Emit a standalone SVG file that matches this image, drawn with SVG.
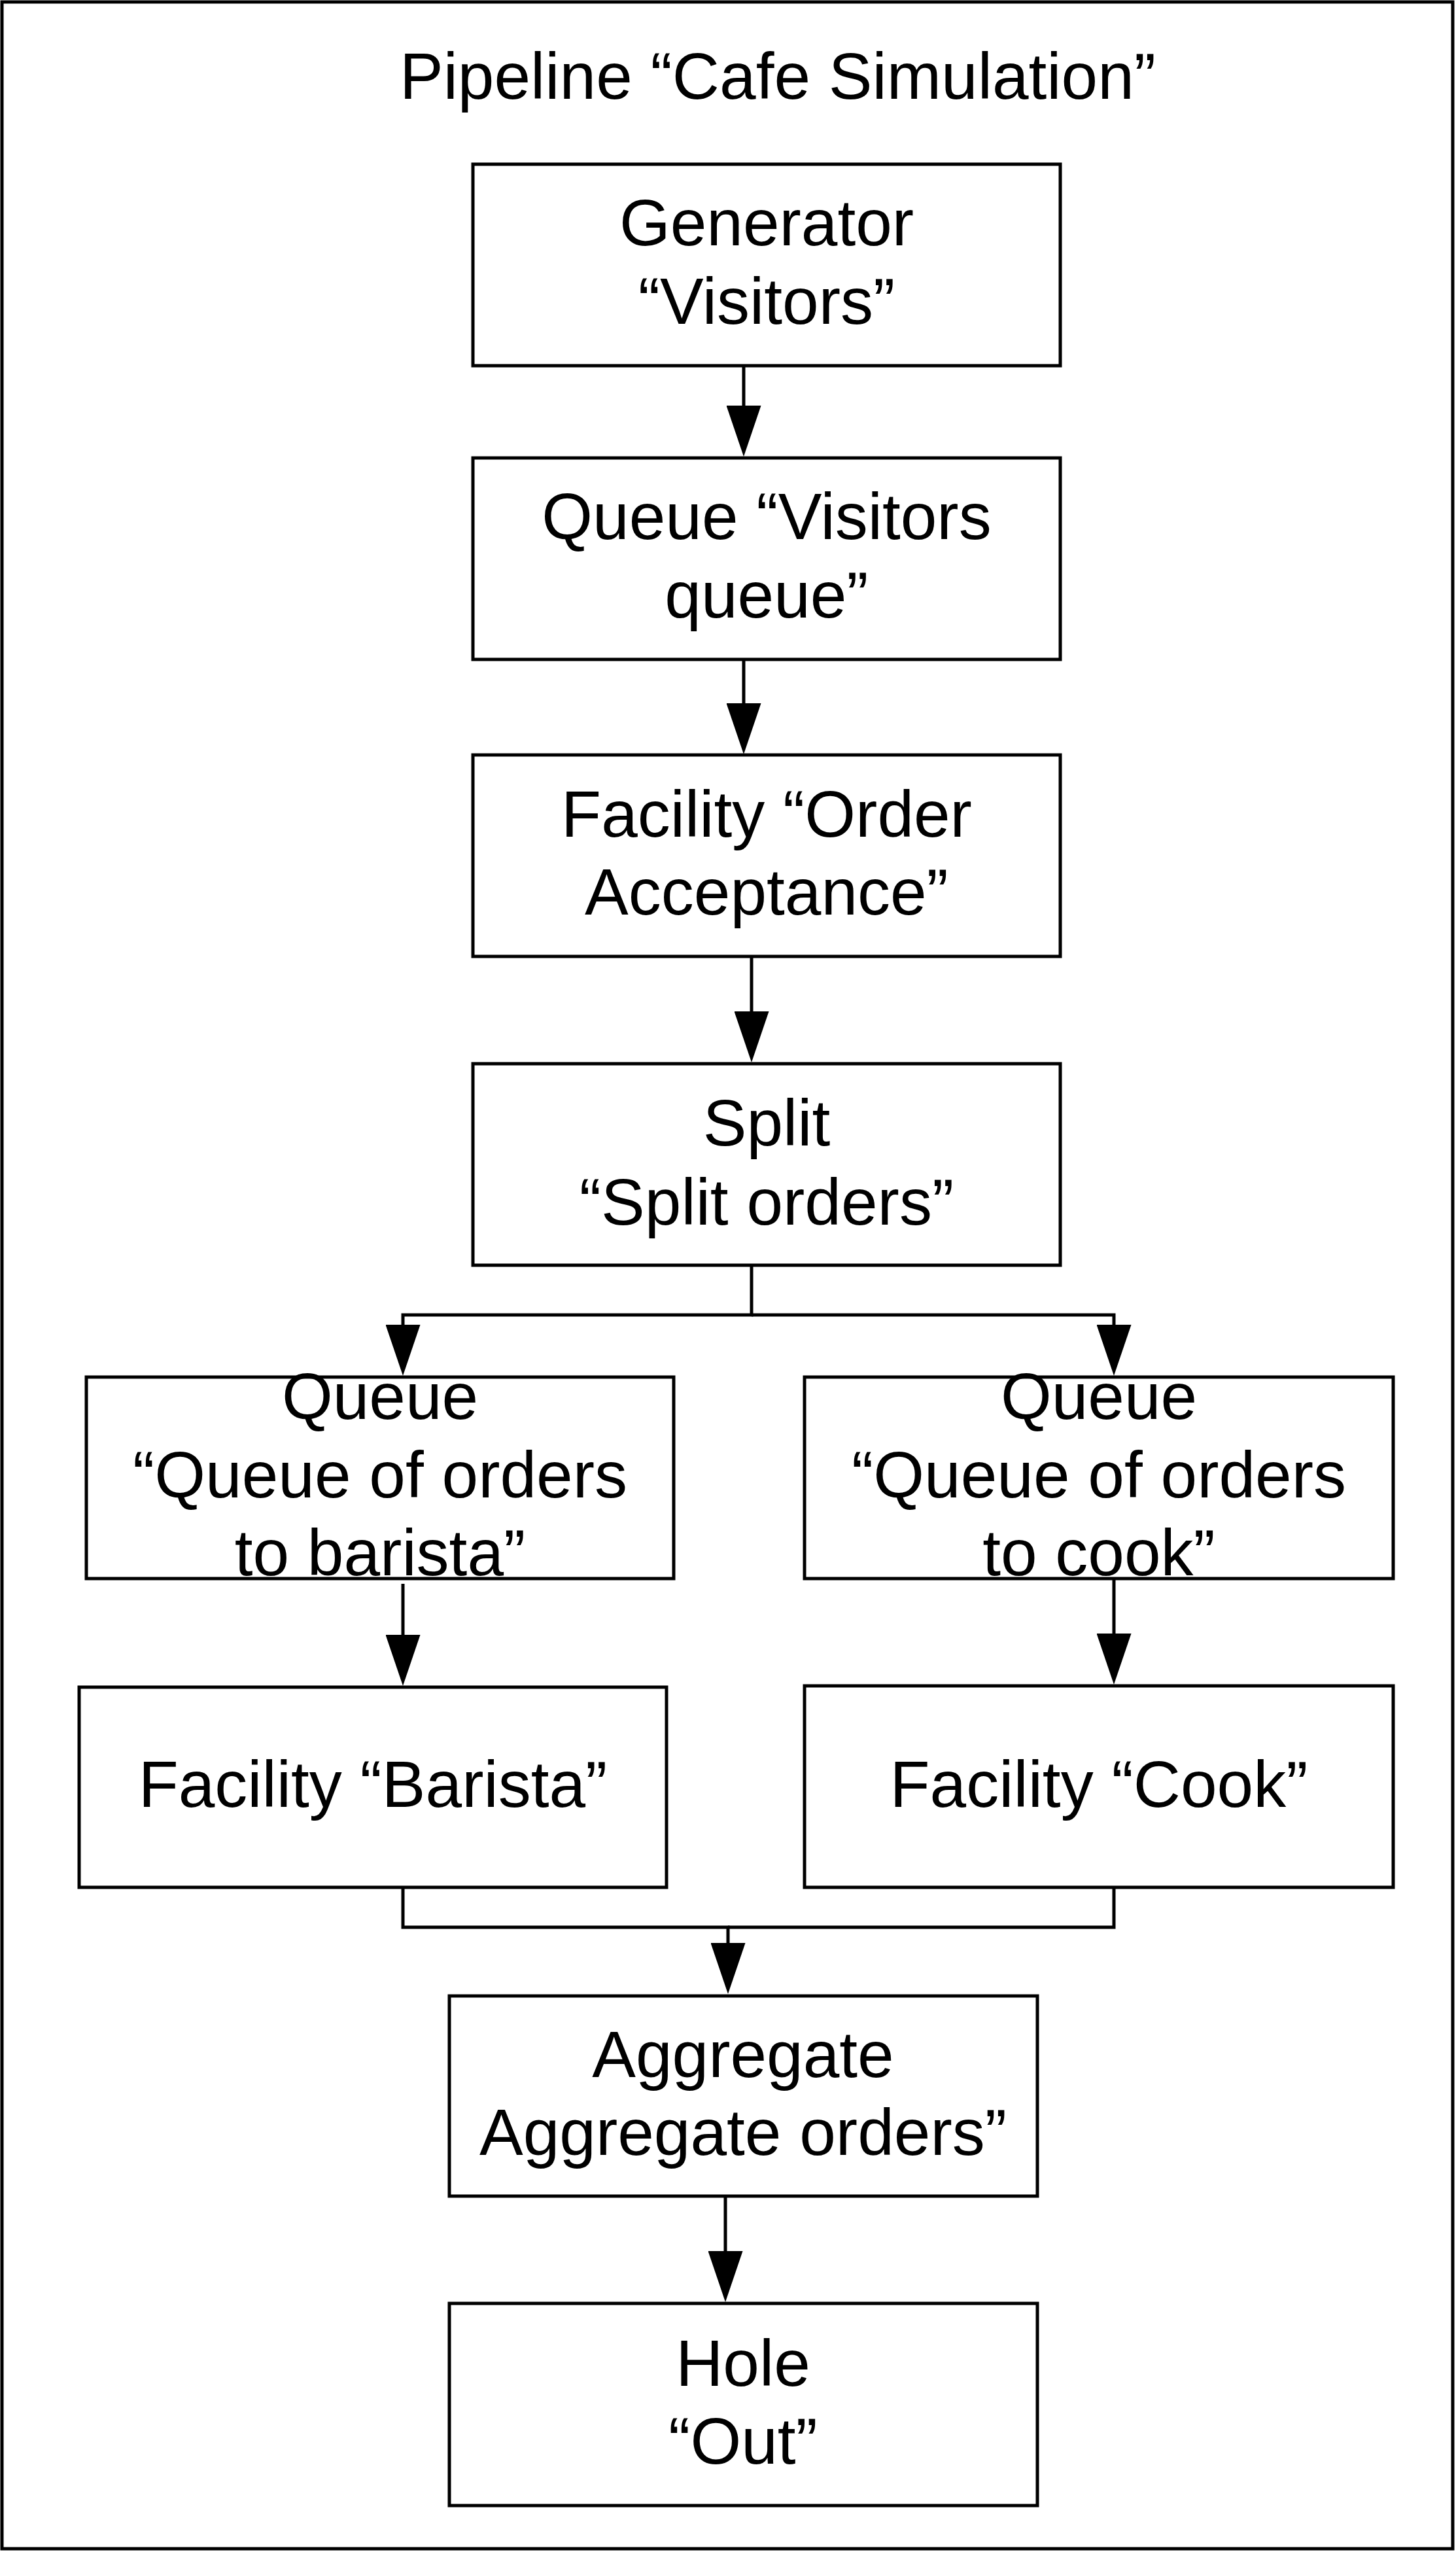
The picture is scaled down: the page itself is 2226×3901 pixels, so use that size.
<svg xmlns="http://www.w3.org/2000/svg" width="2226" height="3901" viewBox="0 0 2226 3901">
<style>
.bg{fill:#ffffff}
.frame{fill:none;stroke:#000;stroke-width:5}
.box{fill:#ffffff;stroke:#000;stroke-width:5}
.t{font-family:"Liberation Sans",Arial,sans-serif;font-size:100px;fill:#000;text-anchor:middle}
.c{fill:none;stroke:#000;stroke-width:5;stroke-linejoin:miter}
</style>
<defs>
<marker id="ah" markerUnits="userSpaceOnUse" viewBox="0 0 78 53" markerWidth="78" markerHeight="53" refX="68" refY="26.5" orient="auto">
<path d="M0,0 L78,26.5 L0,53 Z" fill="#000"/>
</marker>
</defs>
<rect class="bg" x="0" y="0" width="2226" height="3901"/>
<g id="pipeline">
<rect class="frame" x="3" y="3" width="2218" height="3893"/>
<text class="t" x="1189" y="151">Pipeline “Cafe Simulation”</text>
</g>
<g id="connectors">
<path class="c" d="M1137,559 V688" marker-end="url(#ah)"/>
<path class="c" d="M1137,1008 V1143" marker-end="url(#ah)"/>
<path class="c" d="M1149,1462 V1614" marker-end="url(#ah)"/>
<path class="c" d="M1149,1934 V2010 H616 V2093" marker-end="url(#ah)"/>
<path class="c" d="M1149,2010 H1703 V2093" marker-end="url(#ah)"/>
<path class="c" d="M616,2421 V2567" marker-end="url(#ah)"/>
<path class="c" d="M1703,2413 V2565" marker-end="url(#ah)"/>
<path class="c" d="M616,2885 V2946 H1113 V3038" marker-end="url(#ah)"/>
<path class="c" d="M1703,2885 V2946 H1113"/>
<path class="c" d="M1109,3357 V3509" marker-end="url(#ah)"/>
</g>
<g id="generator">
<rect class="box" x="723" y="251" width="898" height="308"/>
<text class="t" x="1172" y="375">Generator</text>
<text class="t" x="1172" y="495">“Visitors”</text>
</g>
<g id="visitors-queue">
<rect class="box" x="723" y="700" width="898" height="308"/>
<text class="t" x="1172" y="824">Queue “Visitors</text>
<text class="t" x="1172" y="944">queue”</text>
</g>
<g id="order-acceptance">
<rect class="box" x="723" y="1154" width="898" height="308"/>
<text class="t" x="1172" y="1279">Facility “Order</text>
<text class="t" x="1172" y="1398">Acceptance”</text>
</g>
<g id="split-orders">
<rect class="box" x="723" y="1626" width="898" height="308"/>
<text class="t" x="1172" y="1751">Split</text>
<text class="t" x="1172" y="1872">“Split orders”</text>
</g>
<g id="queue-barista">
<rect class="box" x="132" y="2105" width="898" height="308"/>
<text class="t" x="581" y="2169">Queue</text>
<text class="t" x="581" y="2289">“Queue of orders</text>
<text class="t" x="581" y="2408">to barista”</text>
</g>
<g id="queue-cook">
<rect class="box" x="1230" y="2105" width="900" height="308"/>
<text class="t" x="1680" y="2169">Queue</text>
<text class="t" x="1680" y="2289">“Queue of orders</text>
<text class="t" x="1680" y="2408">to cook”</text>
</g>
<g id="facility-barista">
<rect class="box" x="121" y="2579" width="898" height="306"/>
<text class="t" x="570" y="2762">Facility “Barista”</text>
</g>
<g id="facility-cook">
<rect class="box" x="1230" y="2577" width="900" height="308"/>
<text class="t" x="1680" y="2762">Facility “Cook”</text>
</g>
<g id="aggregate-orders">
<rect class="box" x="687" y="3051" width="899" height="306"/>
<text class="t" x="1136" y="3175">Aggregate</text>
<text class="t" x="1136" y="3294">Aggregate orders”</text>
</g>
<g id="hole-out">
<rect class="box" x="687" y="3521" width="899" height="309"/>
<text class="t" x="1136" y="3647">Hole</text>
<text class="t" x="1136" y="3766">“Out”</text>
</g>
</svg>
